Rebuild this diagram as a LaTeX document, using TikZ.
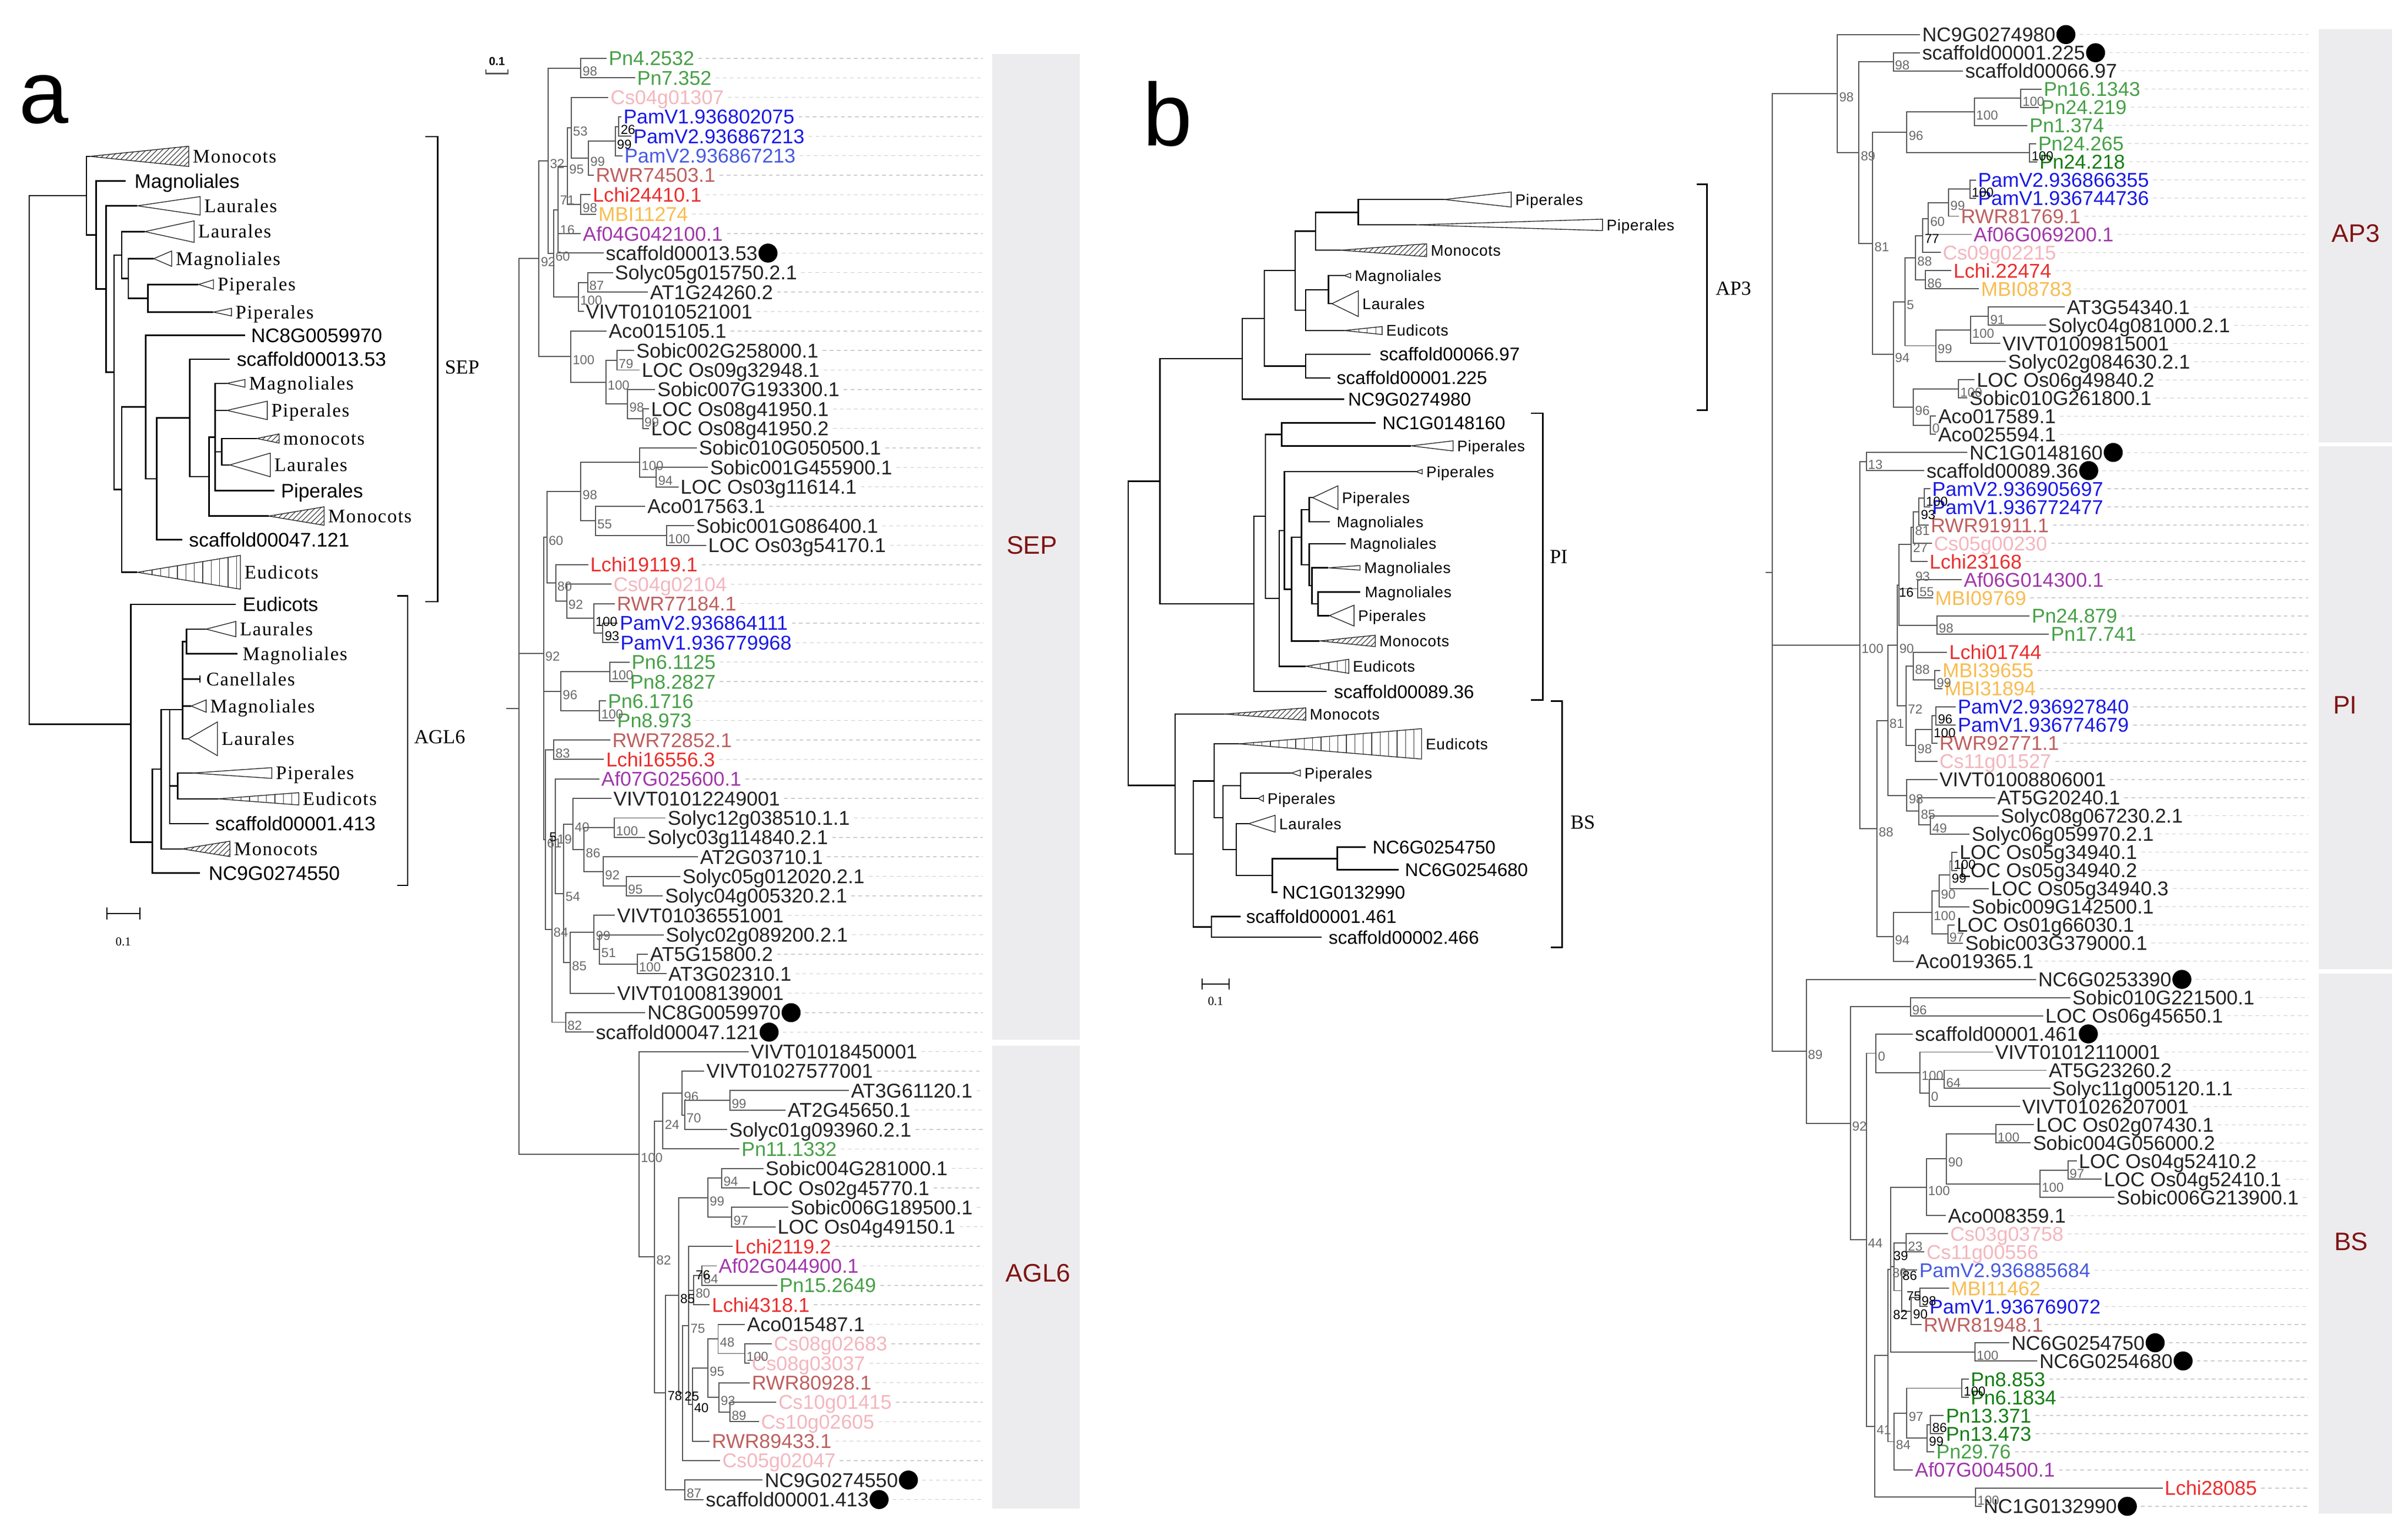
\documentclass[tikz,border=0pt]{standalone}
\usepackage{fontspec}
\setmainfont{Liberation Sans}
\newfontfamily\tms{Liberation Serif}
\newfontfamily\tmsls{Liberation Serif}[LetterSpace=5]
\newfontfamily\arls{Liberation Sans}[LetterSpace=3]
\definecolor{cgrn}{RGB}{70,160,70}
\definecolor{cdgrn}{RGB}{20,125,20}
\definecolor{cpnk}{RGB}{244,182,190}
\definecolor{cblu}{RGB}{25,25,230}
\definecolor{cblu2}{RGB}{70,90,225}
\definecolor{crwr}{RGB}{190,95,95}
\definecolor{cred}{RGB}{235,45,45}
\definecolor{corg}{RGB}{248,188,80}
\definecolor{cpur}{RGB}{160,55,170}
\definecolor{ctxt}{RGB}{35,35,35}
\definecolor{cpan}{RGB}{236,236,238}
\definecolor{cdred}{RGB}{128,20,20}
\definecolor{cbr}{RGB}{85,85,85}
\definecolor{cbs}{RGB}{105,105,105}
\tikzset{
 lf/.style={font=\fontsize{13}{15}\selectfont, anchor=west, inner sep=0pt, text height=9.3pt, text depth=0pt},
 ld/.style={gray!40, line width=0.5pt, dash pattern=on 2.4pt off 2.2pt},
 rb/.style={cbr, line width=0.7pt},
 lb/.style={black, line width=0.9pt},
 bsl/.style={font=\fontsize{8.5}{9}\selectfont, text=cbs, anchor=west, inner sep=0pt, xshift=1pt, yshift=-2.2pt},
 tri/.style={draw=black!85, line width=0.5pt, fill=white},
 hl/.style={black!75, line width=0.45pt},
 cla/.style={font=\tmsls\fontsize{12.5}{14}\selectfont, anchor=west, inner sep=0pt, text height=8.3pt, text depth=0pt},
 sla/.style={font=\fontsize{12.8}{14}\selectfont, anchor=west, inner sep=0pt, text height=9.2pt, text depth=0pt},
 clb/.style={font=\arls\fontsize{10}{12}\selectfont, anchor=west, inner sep=0pt, text height=7.2pt, text depth=0pt},
 slb/.style={font=\fontsize{12}{14}\selectfont, anchor=west, inner sep=0pt, text height=8.6pt, text depth=0pt},
 brk/.style={black, line width=0.9pt},
 brl/.style={font=\tms\fontsize{13}{15}\selectfont, anchor=west, inner sep=0pt},
 pl/.style={font=\fontsize{16.5}{18}\selectfont, text=cdred},
}
\newcommand\Lf[6]{\node[lf,text=#4] (#1) at (#2,#3) {#5};\draw[ld] ([xshift=2.5pt]#1.east) -- (#1.east -| #6);}
\newcommand\Ld[5]{\node[lf,text=ctxt] (#1) at (#2,#3) {#4};\fill[black] ([xshift=6.6pt]#1.east) circle (6.2pt);\draw[ld] ([xshift=15.5pt]#1.east) -- (#1.east -| #5);}
\newcommand\Er[2]{\draw[rb] (#1) |- (#2);}
\newcommand\El[2]{\draw[rb] (#1) |- ([xshift=-1.2pt]#2.west);}
\newcommand\Eb[2]{\draw[lb] (#1) |- (#2);}
\newcommand\Bs[2]{\node[bsl] (#1-bs) at (#1) {#2};}
\newcommand\Bk[2]{\node[bsl,text=black] (#1-bs) at (#1) {#2};}
\newcommand\TriO[7]{\coordinate (#1) at (#2,#3);\draw[tri] (#2,#3) -- ({#4},{#3-#5}) -- ({#4},{#3+#5}) -- cycle;\node[#6] (#1t) at ({#4+2.5},#3) {#7};}
\newcommand\TriH[7]{\coordinate (#1) at (#2,#3);\begin{scope}\clip (#2,#3) -- ({#4},{#3-#5}) -- ({#4},{#3+#5}) -- cycle;\foreach \qq in {-30,-26.5,...,165}{\draw[hl] ({#2+\qq},{#3+#5}) -- ({#2+\qq+2*#5},{#3-#5});}\end{scope}\draw[tri,fill=none] (#2,#3) -- ({#4},{#3-#5}) -- ({#4},{#3+#5}) -- cycle;\node[#6] (#1t) at ({#4+2.5},#3) {#7};}
\newcommand\TriS[7]{\coordinate (#1) at (#2,#3);\begin{scope}\clip (#2,#3) -- ({#4},{#3-#5}) -- ({#4},{#3+#5}) -- cycle;\foreach \qq in {4,9.5,...,130}{\draw[hl] ({#2+\qq},{#3-#5}) -- ({#2+\qq},{#3+#5});}\end{scope}\draw[tri,fill=none] (#2,#3) -- ({#4},{#3-#5}) -- ({#4},{#3+#5}) -- cycle;\node[#6] (#1t) at ({#4+2.5},#3) {#7};}
\newcommand\Tx[6]{\coordinate (#1) at (#2,#3);\node[#5] (#1t) at (#4,#3) {#6};}
\begin{document}
\begin{tikzpicture}[x=1pt,y=-1pt]
\useasboundingbox (0,0) rectangle (1568,999.4);
\fill[white] (0,0) rectangle (1568,999.4);
% ================= panels
\fill[cpan] (646,35) rectangle (703,677);
\fill[cpan] (646,681) rectangle (703,982);
\fill[cpan] (1510,19) rectangle (1557.5,288);
\fill[cpan] (1510,290.5) rectangle (1557.5,631);
\fill[cpan] (1510,634) rectangle (1557.5,985.5);
\node[pl] (pSEP) at (672,355) {SEP};
\node[pl] (pAGL) at (676,829) {AGL6};
\node[pl] (pAP3) at (1534,152) {AP3};
\node[pl] (pPI) at (1527,459) {PI};
\node[pl] (pBS) at (1531,808.5) {BS};
\node[anchor=base west, inner sep=0pt, font=\fontsize{58}{60}\selectfont] (la) at (12,80) {a};
\node[anchor=base west, inner sep=0pt, font=\fontsize{58}{60}\selectfont] (lbb) at (744,95) {b};
\coordinate (gS) at (640,0);
\coordinate (gR) at (1503,0);
% ================= a-left tree
\TriH{A1}{58.5}{101.8}{122.9}{6.6}{cla}{Monocots}
\Tx{A2}{81.7}{117.9}{87.5}{sla}{Magnoliales}
\TriO{A3}{89.5}{134}{130.3}{6}{cla}{Laurales}
\TriO{A4}{94.3}{150.8}{126.4}{7}{cla}{Laurales}
\TriO{A5}{100.1}{168.4}{111.8}{5}{cla}{Magnoliales}
\TriO{A6}{129.3}{185.2}{139.0}{3}{cla}{Piperales}
\TriO{A7}{139.0}{203.2}{150.7}{2.5}{cla}{Piperales}
\Tx{A8}{159.5}{218.2}{163.3}{sla}{NC8G0059970}
\Tx{A9}{149.7}{233.9}{154.0}{sla}{scaffold00013.53}
\TriO{A10}{147.8}{249.6}{159.5}{2.5}{cla}{Magnoliales}
\TriO{A11}{147.8}{267.2}{174.0}{6}{cla}{Piperales}
\TriH{A12}{167.2}{285.5}{181.8}{3}{cla}{monocots}
\TriO{A13}{149.7}{302.7}{176}{7.7}{cla}{Laurales}
\Tx{A14}{178.5}{319.5}{182.8}{sla}{Piperales}
\TriH{A15}{175}{336}{211}{6}{cla}{Monocots}
\Tx{A16}{118.6}{351.4}{122.9}{sla}{scaffold00047.121}
\TriS{A17}{89.5}{372.6}{156.5}{11}{cla}{Eudicots}
\Tx{A18}{153.6}{393.5}{157.9}{sla}{Eudicots}
\TriO{A19}{134.2}{409.6}{153.6}{5}{cla}{Laurales}
\Tx{A20}{154.6}{425.7}{157.9}{cla}{Magnoliales}
\Tx{A21}{130.3}{442.2}{134.2}{cla}{Canellales}
\draw[lb,line width=0.6pt] (130.3,439.8) -- (130.3,444.6);
\TriO{A22}{124.5}{459.7}{134.2}{4}{cla}{Magnoliales}
\TriO{A23}{122.5}{481}{141.6}{11}{cla}{Laurales}
\TriO{A24}{125.4}{503.3}{177}{3.5}{cla}{Piperales}
\TriS{A25}{142}{520.1}{194.5}{4}{cla}{Eudicots}
\Tx{A26}{136.1}{536.2}{140.0}{sla}{scaffold00001.413}
\TriH{A27}{118.6}{552.7}{149.7}{5}{cla}{Monocots}
\Tx{A28}{130.3}{568.4}{135.7}{sla}{NC9G0274550}
\coordinate (Lr) at (19.1,299.5);
\coordinate (LS) at (56.4,127.4);
\coordinate (LS2) at (62.6,153.05);
\coordinate (LS3) at (69.0,188.2);
\coordinate (LS4) at (74.3,242.4);
\coordinate (LS5) at (79.3,166.05);
\coordinate (LS7) at (83.6,181.3);
\coordinate (LS8) at (96.3,194.2);
\coordinate (LS6) at (79.3,318.8);
\coordinate (LS9) at (94.9,265);
\coordinate (LS10) at (102.1,311.8);
\coordinate (LS11) at (123.5,272.1);
\coordinate (LS12) at (136.1,310.3);
\coordinate (LS13) at (140.0,284.6);
\coordinate (LS14) at (144.3,294.1);
\coordinate (LA) at (85.2,471.5);
\coordinate (LA2) at (99.2,548.3);
\coordinate (LA3) at (105.0,500.7);
\coordinate (LA4) at (110.5,462);
\coordinate (LA5) at (119.0,462);
\coordinate (LA6) at (115.7,511.7);
\coordinate (LA7) at (121.5,417.65);
\Eb{Lr}{LS}\Eb{Lr}{LA}
\Eb{LS}{A1}\Eb{LS}{LS2}\Eb{LS2}{A2}\Eb{LS2}{LS3}\Eb{LS3}{A3}\Eb{LS3}{LS4}
\Eb{LS4}{LS5}\Eb{LS4}{LS6}\Eb{LS5}{A4}\Eb{LS5}{LS7}\Eb{LS7}{A5}\Eb{LS7}{LS8}
\Eb{LS8}{A6}\Eb{LS8}{A7}\Eb{LS6}{LS9}\Eb{LS6}{A17}\Eb{LS9}{A8}\Eb{LS9}{LS10}
\Eb{LS10}{LS11}\Eb{LS10}{A16}\Eb{LS11}{A9}\Eb{LS11}{LS12}\Eb{LS12}{LS13}\Eb{LS12}{A15}
\Eb{LS13}{A10}\Eb{LS13}{A11}\Eb{LS13}{LS14}\Eb{LS13}{A14}\Eb{LS14}{A12}\Eb{LS14}{A13}
\Eb{LA}{A18}\Eb{LA}{LA2}\Eb{LA2}{LA3}\Eb{LA2}{A28}\Eb{LA3}{LA4}\Eb{LA3}{A27}
\Eb{LA4}{LA5}\Eb{LA4}{LA6}\Eb{LA4}{A26}\Eb{LA5}{LA7}\Eb{LA5}{A21}\Eb{LA5}{A22}\Eb{LA5}{A23}
\Eb{LA7}{A19}\Eb{LA7}{A20}\Eb{LA6}{A24}\Eb{LA6}{A25}
\draw[brk] (277,89) -- (285,89) -- (285,391.7) -- (277,391.7);
\node[brl] (bSEP) at (289.5,239) {SEP};
\draw[brk] (258.7,388) -- (265.5,388) -- (265.5,576.5) -- (258.7,576.5);
\node[brl] (bAGL) at (269.5,480) {AGL6};
\draw[brk,line width=0.8pt] (69.6,590.8) -- (69.6,598.8) (69.6,594.8) -- (91,594.8) (91,590.8) -- (91,598.8);
\node[font=\tms\fontsize{8}{9}\selectfont] (sbA) at (80.3,613) {0.1};
% ================= b tree
\TriO{B1}{940.5}{129.9}{984}{4.9}{clb}{Piperales}
\TriO{B2}{922.2}{146.4}{1043.5}{3.7}{clb}{Piperales}
\TriH{B3}{873}{162.9}{929}{4.2}{clb}{Monocots}
\TriO{B4}{875.3}{179.4}{879.5}{1.5}{clb}{Magnoliales}
\TriO{B5}{867.3}{197.7}{884.5}{8.4}{clb}{Laurales}
\TriS{B6}{875.3}{215.2}{900}{2.6}{clb}{Eudicots}
\Tx{B7}{892.5}{230.6}{898.2}{slb}{scaffold00066.97}
\Tx{B8}{866.2}{246}{870.3}{slb}{scaffold00001.225}
\Tx{B9}{875.3}{259.9}{877.6}{slb}{NC9G0274980}
\Tx{B10}{895.9}{275.3}{900.0}{slb}{NC1G0148160}
\TriO{B11}{918.8}{290.3}{946.2}{3.3}{clb}{Piperales}
\TriO{B12}{922.2}{307.1}{926.1}{1.5}{clb}{Piperales}
\TriO{B13}{854.7}{324}{871.2}{7.7}{clb}{Piperales}
\Tx{B14}{866}{339.7}{870.3}{clb}{Magnoliales}
\Tx{B15}{876.5}{354}{878.8}{clb}{Magnoliales}
\TriO{B16}{865}{369.7}{885.6}{1.5}{clb}{Magnoliales}
\Tx{B17}{885.6}{385.4}{888.6}{clb}{Magnoliales}
\TriO{B18}{865.7}{400.8}{881.7}{6.8}{clb}{Piperales}
\TriH{B19}{859.3}{417.3}{895.5}{3.7}{clb}{Monocots}
\TriS{B20}{850.2}{433.8}{878.3}{4.6}{clb}{Eudicots}
\Tx{B21}{863.9}{450.2}{868.5}{slb}{scaffold00089.36}
\TriH{B22}{797.5}{464.9}{850.2}{4}{clb}{Monocots}
\TriS{B23}{806.7}{484.3}{925.7}{9.9}{clb}{Eudicots}
\TriO{B24}{841.0}{503.3}{846.7}{2}{clb}{Piperales}
\TriO{B25}{819.3}{519.8}{822.7}{2}{clb}{Piperales}
\TriO{B26}{813.1}{536.3}{830.3}{5.5}{clb}{Laurales}
\Tx{B27}{889.1}{551.6}{893.6}{slb}{NC6G0254750}
\Tx{B28}{910.8}{566.3}{914.7}{slb}{NC6G0254680}
\Tx{B29}{832.0}{580.9}{834.8}{slb}{NC1G0132990}
\Tx{B30}{807.8}{596.7}{811.3}{slb}{scaffold00001.461}
\Tx{B31}{860.5}{610.2}{865}{slb}{scaffold00002.466}
\coordinate (Br) at (734.6,412.4);
\coordinate (B165) at (755.2,313.4);
\coordinate (B400) at (809.0,233.6);
\coordinate (B462) at (823.2,207.3);
\coordinate (B550) at (843.3,176.2);
\coordinate (B608) at (856.6,150.5);
\coordinate (B730) at (884.5,138.2);
\coordinate (B580) at (850.2,201.9);
\coordinate (B645) at (865.0,188.6);
\coordinate (B580b) at (850.2,238.3);
\coordinate (B433) at (816.5,393.2);
\coordinate (B462p) at (823.9,336.2);
\coordinate (B512) at (834.6,282.8);
\coordinate (B505) at (833.0,389.6);
\coordinate (B520) at (836.4,345.4);
\coordinate (B540) at (841.0,383.6);
\coordinate (B568) at (847.4,349.8);
\coordinate (B590) at (852.5,331.9);
\coordinate (B590b) at (852.5,367.7);
\coordinate (B598) at (854.3,381.4);
\coordinate (B615) at (858.2,393.1);
\coordinate (B208) at (765.1,511.4);
\coordinate (B260) at (777.0,556.0);
\coordinate (B312) at (788.8,603.5);
\coordinate (B320) at (790.7,508.4);
\coordinate (B345) at (796.4,532.4);
\coordinate (B395) at (807.8,511.6);
\coordinate (B382) at (804.9,553.1);
\coordinate (B485) at (828.4,570);
\coordinate (B670) at (870.8,559);
\Eb{Br}{B165}\Eb{Br}{B208}\Eb{B165}{B400}\Eb{B165}{B433}\Eb{B400}{B462}\Eb{B400}{B9}
\Eb{B462}{B550}\Eb{B462}{B580b}\Eb{B550}{B608}\Eb{B550}{B580}\Eb{B608}{B730}\Eb{B608}{B3}
\Eb{B730}{B1}\Eb{B730}{B2}\Eb{B580}{B645}\Eb{B580}{B6}\Eb{B645}{B4}\Eb{B645}{B5}
\Eb{B580b}{B7}\Eb{B580b}{B8}
\Eb{B433}{B462p}\Eb{B433}{B21}\Eb{B462p}{B512}\Eb{B462p}{B505}\Eb{B512}{B10}\Eb{B512}{B11}
\Eb{B505}{B520}\Eb{B505}{B20}\Eb{B520}{B12}\Eb{B520}{B540}\Eb{B540}{B568}\Eb{B540}{B19}
\Eb{B568}{B590}\Eb{B568}{B590b}\Eb{B590}{B13}\Eb{B590}{B14}\Eb{B590b}{B15}\Eb{B590b}{B598}
\Eb{B598}{B16}\Eb{B598}{B615}\Eb{B615}{B17}\Eb{B615}{B18}
\Eb{B208}{B22}\Eb{B208}{B260}\Eb{B260}{B320}\Eb{B260}{B312}\Eb{B320}{B23}\Eb{B320}{B345}
\Eb{B345}{B395}\Eb{B345}{B382}\Eb{B395}{B24}\Eb{B395}{B25}\Eb{B382}{B26}\Eb{B382}{B485}
\Eb{B485}{B670}\Eb{B485}{B29}\Eb{B670}{B27}\Eb{B670}{B28}\Eb{B312}{B30}\Eb{B312}{B31}
\draw[brk] (1105,120) -- (1111.5,120) -- (1111.5,267) -- (1105,267);
\node[brl] (bAP3) at (1117,188) {AP3};
\draw[brk] (997,269) -- (1004.6,269) -- (1004.6,455.7) -- (997,455.7);
\node[brl] (bPI) at (1009,362.4) {PI};
\draw[brk] (1009.9,456.5) -- (1017.2,456.5) -- (1017.2,616.8) -- (1009.9,616.8);
\node[brl] (bBS) at (1022.5,535.5) {BS};
\draw[brk,line width=0.8pt] (782.7,637) -- (782.7,644.2) (782.7,640.6) -- (800.3,640.6) (800.3,637) -- (800.3,644.2);
\node[font=\tms\fontsize{8}{9}\selectfont] (sbB) at (791.5,652) {0.1};
% ================= SEP / AGL6 tree
\draw[cbr,line width=0.8pt] (316.4,45.3) -- (316.4,47.9) -- (330.8,47.9) -- (330.8,45.3);
\node[font=\bfseries\fontsize{7.5}{8}\selectfont] (sbS) at (323.6,40) {0.1};
\Lf{s1}{396.2}{38.00}{cgrn}{Pn4.2532}{gS}
\Lf{s2}{414.7}{50.68}{cgrn}{Pn7.352}{gS}
\Lf{s3}{397.4}{63.36}{cpnk}{Cs04g01307}{gS}
\Lf{s4}{405.8}{76.04}{cblu}{PamV1.936802075}{gS}
\Lf{s5}{412.3}{88.72}{cblu}{PamV2.936867213}{gS}
\Lf{s6}{406.5}{101.40}{cblu2}{PamV2.936867213}{gS}
\Lf{s7}{387.8}{114.08}{crwr}{RWR74503.1}{gS}
\Lf{s8}{385.8}{126.76}{cred}{Lchi24410.1}{gS}
\Lf{s9}{389.5}{139.44}{corg}{MBI11274}{gS}
\Lf{s10}{379.4}{152.12}{cpur}{Af04G042100.1}{gS}
\Ld{s11}{394.3}{164.80}{scaffold00013.53}{gS}
\Lf{s12}{400.3}{177.48}{ctxt}{Solyc05g015750.2.1}{gS}
\Lf{s13}{423.1}{190.16}{ctxt}{AT1G24260.2}{gS}
\Lf{s14}{381.3}{202.84}{ctxt}{VIVT01010521001}{gS}
\Lf{s15}{396.2}{215.52}{ctxt}{Aco015105.1}{gS}
\Lf{s16}{414.2}{228.20}{ctxt}{Sobic002G258000.1}{gS}
\Lf{s17}{417.8}{240.88}{ctxt}{LOC Os09g32948.1}{gS}
\Lf{s18}{427.9}{253.56}{ctxt}{Sobic007G193300.1}{gS}
\Lf{s19}{423.8}{266.24}{ctxt}{LOC Os08g41950.1}{gS}
\Lf{s20}{423.8}{278.92}{ctxt}{LOC Os08g41950.2}{gS}
\Lf{s21}{455.0}{291.60}{ctxt}{Sobic010G050500.1}{gS}
\Lf{s22}{462.2}{304.28}{ctxt}{Sobic001G455900.1}{gS}
\Lf{s23}{443.0}{316.96}{ctxt}{LOC Os03g11614.1}{gS}
\Lf{s24}{421.4}{329.64}{ctxt}{Aco017563.1}{gS}
\Lf{s25}{453.1}{342.32}{ctxt}{Sobic001G086400.1}{gS}
\Lf{s26}{461.0}{355.00}{ctxt}{LOC Os03g54170.1}{gS}
\Lf{s27}{384.2}{367.68}{cred}{Lchi19119.1}{gS}
\Lf{s28}{399.3}{380.36}{cpnk}{Cs04g02104}{gS}
\Lf{s29}{401.5}{393.04}{crwr}{RWR77184.1}{gS}
\Lf{s30}{403.4}{405.72}{cblu}{PamV2.936864111}{gS}
\Lf{s31}{403.9}{418.40}{cblu}{PamV1.936779968}{gS}
\Lf{s32}{411.1}{431.08}{cgrn}{Pn6.1125}{gS}
\Lf{s33}{410.1}{443.76}{cgrn}{Pn8.2827}{gS}
\Lf{s34}{395.7}{456.44}{cgrn}{Pn6.1716}{gS}
\Lf{s35}{401.7}{469.12}{cgrn}{Pn8.973}{gS}
\Lf{s36}{398.6}{481.80}{crwr}{RWR72852.1}{gS}
\Lf{s37}{394.5}{494.48}{cred}{Lchi16556.3}{gS}
\Lf{s38}{391.4}{507.16}{cpur}{Af07G025600.1}{gS}
\Lf{s39}{399.3}{519.84}{ctxt}{VIVT01012249001}{gS}
\Lf{s40}{434.6}{532.52}{ctxt}{Solyc12g038510.1.1}{gS}
\Lf{s41}{421.4}{545.20}{ctxt}{Solyc03g114840.2.1}{gS}
\Lf{s42}{455.7}{557.88}{ctxt}{AT2G03710.1}{gS}
\Lf{s43}{444.2}{570.56}{ctxt}{Solyc05g012020.2.1}{gS}
\Lf{s44}{432.9}{583.24}{ctxt}{Solyc04g005320.2.1}{gS}
\Lf{s45}{401.7}{595.92}{ctxt}{VIVT01036551001}{gS}
\Lf{s46}{433.4}{608.60}{ctxt}{Solyc02g089200.2.1}{gS}
\Lf{s47}{423.1}{621.28}{ctxt}{AT5G15800.2}{gS}
\Lf{s48}{435.1}{633.96}{ctxt}{AT3G02310.1}{gS}
\Lf{s49}{401.7}{646.64}{ctxt}{VIVT01008139001}{gS}
\Ld{s50}{421.4}{659.32}{NC8G0059970}{gS}
\Ld{s51}{387.8}{672.00}{scaffold00047.121}{gS}
\Lf{s52}{488.7}{684.68}{ctxt}{VIVT01018450001}{gS}
\Lf{s53}{459.8}{697.36}{ctxt}{VIVT01027577001}{gS}
\Lf{s54}{554.0}{710.04}{ctxt}{AT3G61120.1}{gS}
\Lf{s55}{512.7}{722.72}{ctxt}{AT2G45650.1}{gS}
\Lf{s56}{474.7}{735.40}{ctxt}{Solyc01g093960.2.1}{gS}
\Lf{s57}{482.7}{748.08}{cgrn}{Pn11.1332}{gS}
\Lf{s58}{498.3}{760.76}{ctxt}{Sobic004G281000.1}{gS}
\Lf{s59}{489.4}{773.44}{ctxt}{LOC Os02g45770.1}{gS}
\Lf{s60}{514.6}{786.12}{ctxt}{Sobic006G189500.1}{gS}
\Lf{s61}{506.2}{798.80}{ctxt}{LOC Os04g49150.1}{gS}
\Lf{s62}{478.3}{811.48}{cred}{Lchi2119.2}{gS}
\Lf{s63}{467.8}{824.16}{cpur}{Af02G044900.1}{gS}
\Lf{s64}{507.4}{836.84}{cgrn}{Pn15.2649}{gS}
\Lf{s65}{463.4}{849.52}{cred}{Lchi4318.1}{gS}
\Lf{s66}{486.3}{862.20}{ctxt}{Aco015487.1}{gS}
\Lf{s67}{503.8}{874.88}{cpnk}{Cs08g02683}{gS}
\Lf{s68}{489.4}{887.56}{cpnk}{Cs08g03037}{gS}
\Lf{s69}{489.4}{900.24}{crwr}{RWR80928.1}{gS}
\Lf{s70}{506.7}{912.92}{cpnk}{Cs10g01415}{gS}
\Lf{s71}{495.4}{925.60}{cpnk}{Cs10g02605}{gS}
\Lf{s72}{463.4}{938.28}{crwr}{RWR89433.1}{gS}
\Lf{s73}{470.2}{950.96}{cpnk}{Cs05g02047}{gS}
\Ld{s74}{497.8}{963.64}{NC9G0274550}{gS}
\Ld{s75}{459.4}{976.32}{scaffold00001.413}{gS}
\coordinate (sRoot) at (337.8,461.4);
\coordinate (sN1) at (351.0,168.4);
\coordinate (sN32) at (356.9,104.6);
\coordinate (sNPn) at (378.2,44.35);
\coordinate (sN53) at (371.9,83.2);
\coordinate (sN99) at (383.2,103.0);
\coordinate (sN99b) at (400.6,91.9);
\coordinate (sN26) at (403.0,82.35);
\coordinate (sN95) at (369.5,108.2);
\coordinate (sN98b) at (378.2,133.1);
\coordinate (sNq) at (363.5,136.5);
\coordinate (sN60) at (360.5,164.9);
\coordinate (sN87) at (382.6,183.9);
\coordinate (sNEu) at (376.7,193.3);
\coordinate (sNMono) at (371.7,232.2);
\coordinate (sN79) at (401.7,234.5);
\coordinate (sN100b2) at (394.5,248.8);
\coordinate (sN98c) at (408.7,263.1);
\coordinate (sN99c) at (418.5,272.6);
\coordinate (sN2) at (353.9,425.3);
\coordinate (sN60b) at (356.1,349.8);
\coordinate (sN98) at (378.2,320.1);
\coordinate (sN100e) at (416.6,301.1);
\coordinate (sN94) at (427.4,310.6);
\coordinate (sN55) at (387.8,339.1);
\coordinate (sN100f) at (433.9,348.6);
\coordinate (sN80) at (361.8,379.5);
\coordinate (sN92b) at (369.0,391.4);
\coordinate (sN100g) at (386.6,402.5);
\coordinate (sN93) at (392.6,412.0);
\coordinate (sN96) at (365.3,450.1);
\coordinate (sN100a) at (397.0,437.4);
\coordinate (sN100bb) at (390.4,462.8);
\coordinate (sN61) at (355.1,546.6);
\coordinate (sN83) at (360.5,488.2);
\coordinate (sN84) at (359.3,605.0);
\coordinate (sNAf) at (361.7,544.4);
\coordinate (sN54) at (367.1,581.7);
\coordinate (sN40) at (373.1,536.5);
\coordinate (sN86) at (380.3,553.2);
\coordinate (sN100c) at (400.0,538.9);
\coordinate (sN92) at (392.8,567.4);
\coordinate (sN95s) at (407.8,576.9);
\coordinate (sN85) at (371.3,626.8);
\coordinate (sN99s) at (386.8,607.0);
\coordinate (sN51) at (390.4,618.1);
\coordinate (sN100d) at (414.9,627.6);
\coordinate (sN82) at (368.3,665.6);
\coordinate (sNAG) at (416.1,751.5);
\coordinate (sN82a) at (426.3,818.3);
\coordinate (sN24) at (431.7,729.9);
\coordinate (sN96x) at (444.2,711.7);
\coordinate (sN70) at (445.8,725.9);
\coordinate (sN99x) at (475.3,716.4);
\coordinate (sN78) at (433.5,906.7);
\coordinate (sN545) at (441.8,843.4);
\coordinate (sN99y) at (461.0,779.8);
\coordinate (sN94x) at (469.9,767.1);
\coordinate (sN97x) at (476.5,792.5);
\coordinate (sN570) at (444.6,906.9);
\coordinate (sN600) at (448.4,863.0);
\coordinate (sN76) at (451.8,840.0);
\coordinate (sN84x) at (457.0,830.5);
\coordinate (sN40x) at (450.8,914.5);
\coordinate (sN95x) at (461.0,890.8);
\coordinate (sN48) at (467.6,871.7);
\coordinate (sN100h) at (484.9,881.2);
\coordinate (sN93x) at (468.1,909.8);
\coordinate (sN89) at (475.3,919.3);
\coordinate (sN87x) at (446.0,970.0);
\draw[rb] (329.5,461.4) -- (sRoot);
\Er{sRoot}{sN1}\Er{sRoot}{sN2}\Er{sRoot}{sNAG}
\Er{sN1}{sN32}\Er{sN1}{sNMono}\Er{sN32}{sNPn}\Er{sN32}{sN60}\El{sNPn}{s1}\El{sNPn}{s2}
\Er{sN60}{sNq}\Er{sN60}{sNEu}\Er{sNq}{sN95}\El{sNq}{s10}\El{sNq}{s11}
\Er{sN95}{sN53}\Er{sN95}{sN98b}\El{sN53}{s3}\Er{sN53}{sN99}\Er{sN99}{sN99b}\El{sN99}{s7}
\Er{sN99b}{sN26}\El{sN99b}{s6}\El{sN26}{s4}\El{sN26}{s5}\El{sN98b}{s8}\El{sN98b}{s9}
\Er{sNEu}{sN87}\El{sNEu}{s14}\El{sN87}{s12}\El{sN87}{s13}
\El{sNMono}{s15}\Er{sNMono}{sN100b2}\Er{sN100b2}{sN79}\Er{sN100b2}{sN98c}\El{sN79}{s16}\El{sN79}{s17}
\El{sN98c}{s18}\Er{sN98c}{sN99c}\El{sN99c}{s19}\El{sN99c}{s20}
\Er{sN2}{sN60b}\Er{sN2}{sN96}\Er{sN2}{sN61}
\Er{sN60b}{sN98}\Er{sN60b}{sN80}\Er{sN98}{sN100e}\Er{sN98}{sN55}\El{sN100e}{s21}\Er{sN100e}{sN94}
\El{sN94}{s22}\El{sN94}{s23}\El{sN55}{s24}\Er{sN55}{sN100f}\El{sN100f}{s25}\El{sN100f}{s26}
\El{sN80}{s27}\Er{sN80}{sN92b}\El{sN92b}{s28}\Er{sN92b}{sN100g}\El{sN100g}{s29}\Er{sN100g}{sN93}
\El{sN93}{s30}\El{sN93}{s31}
\Er{sN96}{sN100a}\Er{sN96}{sN100bb}\El{sN100a}{s32}\El{sN100a}{s33}\El{sN100bb}{s34}\El{sN100bb}{s35}
\Er{sN61}{sN83}\Er{sN61}{sN84}\El{sN83}{s36}\El{sN83}{s37}
\Er{sN84}{sNAf}\Er{sN84}{sN82}\El{sNAf}{s38}\Er{sNAf}{sN54}\Er{sN54}{sN40}\Er{sN54}{sN85}
\El{sN40}{s39}\Er{sN40}{sN86}\Er{sN86}{sN100c}\Er{sN86}{sN92}\El{sN100c}{s40}\El{sN100c}{s41}
\El{sN92}{s42}\Er{sN92}{sN95s}\El{sN95s}{s43}\El{sN95s}{s44}
\Er{sN85}{sN99s}\El{sN85}{s49}\El{sN99s}{s45}\Er{sN99s}{sN51}\El{sN51}{s46}\Er{sN51}{sN100d}
\El{sN100d}{s47}\El{sN100d}{s48}\El{sN82}{s50}\El{sN82}{s51}
\El{sNAG}{s52}\Er{sNAG}{sN82a}\Er{sN82a}{sN24}\Er{sN82a}{sN78}\Er{sN24}{sN96x}\El{sN24}{s57}
\El{sN96x}{s53}\Er{sN96x}{sN70}\Er{sN70}{sN99x}\El{sN70}{s56}\El{sN99x}{s54}\El{sN99x}{s55}
\Er{sN78}{sN545}\Er{sN78}{sN87x}\Er{sN545}{sN99y}\Er{sN545}{sN570}\Er{sN99y}{sN94x}\Er{sN99y}{sN97x}
\El{sN94x}{s58}\El{sN94x}{s59}\El{sN97x}{s60}\El{sN97x}{s61}
\Er{sN570}{sN600}\El{sN570}{s73}\El{sN600}{s62}\Er{sN600}{sN76}\Er{sN600}{sN40x}
\Er{sN76}{sN84x}\El{sN76}{s65}\El{sN84x}{s63}\El{sN84x}{s64}
\Er{sN40x}{sN95x}\El{sN40x}{s72}\Er{sN95x}{sN48}\Er{sN95x}{sN93x}\El{sN48}{s66}\Er{sN48}{sN100h}
\El{sN100h}{s67}\El{sN100h}{s68}\El{sN93x}{s69}\Er{sN93x}{sN89}\El{sN89}{s70}\El{sN89}{s71}
\El{sN87x}{s74}\El{sN87x}{s75}
\Bs{sN1}{92}\Bs{sN32}{32}\Bs{sNPn}{98}\Bs{sN53}{53}\Bs{sN99}{99}\Bk{sN99b}{99}\Bk{sN26}{26}
\Bs{sN95}{95}\Bs{sN98b}{98}\Bs{sN60}{60}\Bs{sN87}{87}\Bs{sNEu}{100}\Bs{sNMono}{100}\Bs{sN79}{79}
\Bs{sN100b2}{100}\Bs{sN98c}{98}\Bs{sN99c}{99}
\node[bsl] (sB71) at (363.5,128) {71};
\node[bsl] (sB16) at (363.5,147.5) {16};
\Bs{sN2}{92}\Bs{sN60b}{60}\Bs{sN98}{98}\Bs{sN100e}{100}\Bs{sN94}{94}\Bs{sN55}{55}\Bs{sN100f}{100}
\Bs{sN80}{80}\Bs{sN92b}{92}\Bk{sN100g}{100}\Bk{sN93}{93}\Bs{sN96}{96}\Bs{sN100a}{100}\Bs{sN100bb}{100}
\Bs{sN61}{61}\Bs{sN83}{83}\Bs{sN84}{84}\Bs{sNAf}{19}\Bs{sN54}{54}\Bs{sN40}{40}\Bs{sN86}{86}
\Bs{sN100c}{100}\Bs{sN92}{92}\Bs{sN95s}{95}\Bs{sN85}{85}\Bs{sN99s}{99}\Bs{sN51}{51}\Bs{sN100d}{100}\Bs{sN82}{82}
\node[bsl,text=black] (sB5) at (356.5,543) {5};
\Bs{sNAG}{100}\Bs{sN82a}{82}\Bs{sN24}{24}\Bs{sN96x}{96}\Bs{sN70}{70}\Bs{sN99x}{99}\Bk{sN78}{78}
\Bk{sN545}{85}\Bs{sN99y}{99}\Bs{sN94x}{94}\Bs{sN97x}{97}\Bk{sN570}{25}\Bs{sN600}{75}\Bs{sN76}{80}
\Bs{sN84x}{84}\Bs{sN48}{48}\Bs{sN100h}{100}\Bs{sN95x}{95}\Bs{sN93x}{93}\Bs{sN89}{89}\Bk{sN40x}{40}\Bs{sN87x}{87}
\node[bsl,text=black] (sB76) at (451.8,828) {76};
% ================= AP3 / PI / BS tree
\Ld{r1}{1251.5}{22.5}{NC9G0274980}{gR}
\Ld{r2}{1251.5}{34.33}{scaffold00001.225}{gR}
\Lf{r3}{1279.5}{46.16}{ctxt}{scaffold00066.97}{gR}
\Lf{r4}{1330.6}{57.99}{cgrn}{Pn16.1343}{gR}
\Lf{r5}{1328.9}{69.82}{cgrn}{Pn24.219}{gR}
\Lf{r6}{1321.4}{81.65}{cgrn}{Pn1.374}{gR}
\Lf{r7}{1327.0}{93.48}{cgrn}{Pn24.265}{gR}
\Lf{r8}{1327.8}{105.31}{cdgrn}{Pn24.218}{gR}
\Lf{r9}{1287.8}{117.14}{cblu}{PamV2.936866355}{gR}
\Lf{r10}{1287.8}{128.97}{cblu}{PamV1.936744736}{gR}
\Lf{r11}{1276.7}{140.8}{crwr}{RWR81769.1}{gR}
\Lf{r12}{1285.0}{152.63}{cpur}{Af06G069200.1}{gR}
\Lf{r13}{1264.9}{164.46}{cpnk}{Cs09g02215}{gR}
\Lf{r14}{1271.9}{176.29}{cred}{Lchi.22474}{gR}
\Lf{r15}{1289.8}{188.12}{corg}{MBI08783}{gR}
\Lf{r16}{1345.7}{199.95}{ctxt}{AT3G54340.1}{gR}
\Lf{r17}{1333.4}{211.78}{ctxt}{Solyc04g081000.2.1}{gR}
\Lf{r18}{1303.8}{223.61}{ctxt}{VIVT01009815001}{gR}
\Lf{r19}{1307.4}{235.44}{ctxt}{Solyc02g084630.2.1}{gR}
\Lf{r20}{1287.0}{247.27}{ctxt}{LOC Os06g49840.2}{gR}
\Lf{r21}{1282.3}{259.1}{ctxt}{Sobic010G261800.1}{gR}
\Lf{r22}{1261.9}{270.93}{ctxt}{Aco017589.1}{gR}
\Lf{r23}{1261.9}{282.76}{ctxt}{Aco025594.1}{gR}
\Ld{r24}{1282.3}{294.59}{NC1G0148160}{gR}
\Ld{r25}{1254.3}{306.42}{scaffold00089.36}{gR}
\Lf{r26}{1258.0}{318.25}{cblu}{PamV2.936905697}{gR}
\Lf{r27}{1258.0}{330.08}{cblu}{PamV1.936772477}{gR}
\Lf{r28}{1257.1}{341.91}{crwr}{RWR91911.1}{gR}
\Lf{r29}{1259.1}{353.74}{cpnk}{Cs05g00230}{gR}
\Lf{r30}{1256.3}{365.57}{cred}{Lchi23168}{gR}
\Lf{r31}{1278.6}{377.4}{cpur}{Af06G014300.1}{gR}
\Lf{r32}{1259.9}{389.23}{corg}{MBI09769}{gR}
\Lf{r33}{1322.8}{401.06}{cgrn}{Pn24.879}{gR}
\Lf{r34}{1335.3}{412.89}{cgrn}{Pn17.741}{gR}
\Lf{r35}{1269.1}{424.72}{cred}{Lchi01744}{gR}
\Lf{r36}{1264.7}{436.55}{corg}{MBI39655}{gR}
\Lf{r37}{1266.1}{448.38}{corg}{MBI31894}{gR}
\Lf{r38}{1274.7}{460.21}{cblu}{PamV2.936927840}{gR}
\Lf{r39}{1274.7}{472.04}{cblu}{PamV1.936774679}{gR}
\Lf{r40}{1262.7}{483.87}{crwr}{RWR92771.1}{gR}
\Lf{r41}{1262.7}{495.7}{cpnk}{Cs11g01527}{gR}
\Lf{r42}{1262.7}{507.53}{ctxt}{VIVT01008806001}{gR}
\Lf{r43}{1300.4}{519.36}{ctxt}{AT5G20240.1}{gR}
\Lf{r44}{1302.6}{531.19}{ctxt}{Solyc08g067230.2.1}{gR}
\Lf{r45}{1283.7}{543.02}{ctxt}{Solyc06g059970.2.1}{gR}
\Lf{r46}{1275.8}{554.85}{ctxt}{LOC Os05g34940.1}{gR}
\Lf{r47}{1275.8}{566.68}{ctxt}{LOC Os05g34940.2}{gR}
\Lf{r48}{1296.2}{578.51}{ctxt}{LOC Os05g34940.3}{gR}
\Lf{r49}{1283.7}{590.34}{ctxt}{Sobic009G142500.1}{gR}
\Lf{r50}{1273.9}{602.17}{ctxt}{LOC Os01g66030.1}{gR}
\Lf{r51}{1279.5}{614.0}{ctxt}{Sobic003G379000.1}{gR}
\Lf{r52}{1247.3}{625.83}{ctxt}{Aco019365.1}{gR}
\Ld{r53}{1327.0}{637.66}{NC6G0253390}{gR}
\Lf{r54}{1349.3}{649.49}{ctxt}{Sobic010G221500.1}{gR}
\Lf{r55}{1331.7}{661.32}{ctxt}{LOC Os06g45650.1}{gR}
\Ld{r56}{1246.8}{673.15}{scaffold00001.461}{gR}
\Lf{r57}{1299.0}{684.98}{ctxt}{VIVT01012110001}{gR}
\Lf{r58}{1333.9}{696.81}{ctxt}{AT5G23260.2}{gR}
\Lf{r59}{1336.2}{708.64}{ctxt}{Solyc11g005120.1.1}{gR}
\Lf{r60}{1316.6}{720.47}{ctxt}{VIVT01026207001}{gR}
\Lf{r61}{1325.6}{732.3}{ctxt}{LOC Os02g07430.1}{gR}
\Lf{r62}{1323.6}{744.13}{ctxt}{Sobic004G056000.2}{gR}
\Lf{r63}{1353.5}{755.96}{ctxt}{LOC Os04g52410.2}{gR}
\Lf{r64}{1369.7}{767.79}{ctxt}{LOC Os04g52410.1}{gR}
\Lf{r65}{1378.1}{779.62}{ctxt}{Sobic006G213900.1}{gR}
\Lf{r66}{1268.3}{791.45}{ctxt}{Aco008359.1}{gR}
\Lf{r67}{1269.7}{803.28}{cpnk}{Cs03g03758}{gR}
\Lf{r68}{1254.3}{815.11}{cpnk}{Cs11g00556}{gR}
\Lf{r69}{1249.6}{826.94}{cblu2}{PamV2.936885684}{gR}
\Lf{r70}{1270.2}{838.77}{corg}{MBI11462}{gR}
\Lf{r71}{1256.3}{850.6}{cblu}{PamV1.936769072}{gR}
\Lf{r72}{1252.4}{862.43}{crwr}{RWR81948.1}{gR}
\Ld{r73}{1309.6}{874.26}{NC6G0254750}{gR}
\Ld{r74}{1327.8}{886.09}{NC6G0254680}{gR}
\Lf{r75}{1283.1}{897.92}{cdgrn}{Pn8.853}{gR}
\Lf{r76}{1283.1}{909.75}{cdgrn}{Pn6.1834}{gR}
\Lf{r77}{1266.9}{921.58}{cdgrn}{Pn13.371}{gR}
\Lf{r78}{1266.9}{933.41}{cdgrn}{Pn13.473}{gR}
\Lf{r79}{1260.7}{945.24}{cgrn}{Pn29.76}{gR}
\Lf{r80}{1246.8}{957.07}{cpur}{Af07G004500.1}{gR}
\Lf{r81}{1409.4}{968.9}{cred}{Lchi28085}{gR}
\Ld{r82}{1291.5}{980.73}{NC1G0132990}{gR}
\coordinate (rRoot) at (1153.9,372.75);
\coordinate (rN98r) at (1196.4,61.0);
\coordinate (rN89r) at (1210.5,99.4);
\coordinate (rN98s) at (1232.8,40.2);
\coordinate (rN81) at (1219.4,158.5);
\coordinate (rN96r) at (1241.7,86.1);
\coordinate (rN100r) at (1285.6,72.8);
\coordinate (rN100t) at (1315.8,63.9);
\coordinate (rN100s) at (1321.7,99.4);
\coordinate (rN94r) at (1232.8,230.8);
\coordinate (rN5r) at (1240.4,196.5);
\coordinate (rN88r) at (1247.3,167.8);
\coordinate (rN77r) at (1252.1,153.4);
\coordinate (rN60r) at (1255.7,142.3);
\coordinate (rN99r2) at (1268.8,131.9);
\coordinate (rN100u) at (1282.8,123.1);
\coordinate (rN86r) at (1253.8,182.2);
\coordinate (rN99r) at (1260.5,225.1);
\coordinate (rN100v) at (1283.1,214.8);
\coordinate (rN91r) at (1294.8,205.9);
\coordinate (rN96s) at (1245.9,265.0);
\coordinate (rN100w) at (1275.3,253.2);
\coordinate (rN0r) at (1257.1,276.8);
\coordinate (rNPI) at (1211.0,420.0);
\coordinate (rN13) at (1215.2,300.5);
\coordinate (rN88p) at (1222.2,539.5);
\coordinate (rN81p) at (1229.2,469.1);
\coordinate (rN90p) at (1235.6,420.2);
\coordinate (rNx) at (1236.4,380.8);
\coordinate (rN27p) at (1244.5,354.5);
\coordinate (rN81q) at (1245.9,343.4);
\coordinate (rN93p) at (1249.6,333.1);
\coordinate (rN100p) at (1252.9,324.2);
\coordinate (rN55p) at (1248.7,383.3);
\coordinate (rN98q) at (1261.3,407.0);
\coordinate (rN72) at (1241.2,459.5);
\coordinate (rN88q) at (1245.9,433.6);
\coordinate (rN99p) at (1259.9,442.5);
\coordinate (rN98p3) at (1247.3,485.4);
\coordinate (rN96p) at (1258.0,475.0);
\coordinate (rN100q) at (1260.7,466.1);
\coordinate (rN98p2) at (1241.7,517.9);
\coordinate (rN85p) at (1249.6,528.2);
\coordinate (rN49) at (1257.1,537.1);
\coordinate (rN94p) at (1232.8,609.9);
\coordinate (rN100z) at (1258.0,594.0);
\coordinate (rN90q) at (1262.7,580.0);
\coordinate (rN100y2) at (1269.7,569.6);
\coordinate (rN99y) at (1271.1,560.8);
\coordinate (rN97q) at (1268.3,608.1);
\coordinate (rNBS) at (1176.1,684.5);
\coordinate (rN92bs) at (1204.9,731.3);
\coordinate (rN96b) at (1244.0,655.4);
\coordinate (rN44) at (1215.2,807.2);
\coordinate (rN0b) at (1221.6,685.7);
\coordinate (rN100b) at (1250.1,698.3);
\coordinate (rN0c) at (1256.3,711.6);
\coordinate (rN64) at (1266.1,702.7);
\coordinate (rN41b) at (1220.8,928.7);
\coordinate (rN41c) at (1229.2,882.6);
\coordinate (rN80b) at (1231.1,826.6);
\coordinate (rN100c) at (1254.3,773.0);
\coordinate (rN90b) at (1267.4,754.5);
\coordinate (rN100e) at (1299.6,738.2);
\coordinate (rN100f) at (1328.4,770.8);
\coordinate (rN97b) at (1346.5,761.9);
\coordinate (rN39b) at (1233.4,824.7);
\coordinate (rN23b) at (1241.2,809.2);
\coordinate (rN86b) at (1238.4,840.3);
\coordinate (rN90b2) at (1244.5,853.6);
\coordinate (rN98b) at (1250.1,844.7);
\coordinate (rN100g) at (1285.9,880.2);
\coordinate (rN84c) at (1233.4,938.6);
\coordinate (rN97c) at (1241.7,920.1);
\coordinate (rN100i) at (1277.5,903.8);
\coordinate (rN99c) at (1254.9,936.4);
\coordinate (rN86c) at (1257.1,927.5);
\coordinate (rN100h) at (1286.4,974.8);
\draw[rb] (1149.7,372.75) -- (rRoot);
\Er{rRoot}{rN98r}\Er{rRoot}{rNPI}\Er{rRoot}{rNBS}
\El{rN98r}{r1}\Er{rN98r}{rN89r}\Er{rN89r}{rN98s}\Er{rN89r}{rN81}\El{rN98s}{r2}\El{rN98s}{r3}
\Er{rN81}{rN96r}\Er{rN81}{rN94r}\Er{rN96r}{rN100r}\Er{rN96r}{rN100s}\Er{rN100r}{rN100t}\El{rN100r}{r6}
\El{rN100t}{r4}\El{rN100t}{r5}\El{rN100s}{r7}\El{rN100s}{r8}
\Er{rN94r}{rN5r}\Er{rN94r}{rN96s}\Er{rN5r}{rN88r}\Er{rN5r}{rN99r}\Er{rN88r}{rN77r}\Er{rN88r}{rN86r}
\Er{rN77r}{rN60r}\El{rN77r}{r13}\Er{rN60r}{rN99r2}\El{rN60r}{r12}\Er{rN99r2}{rN100u}\El{rN99r2}{r11}
\El{rN100u}{r9}\El{rN100u}{r10}\El{rN86r}{r14}\El{rN86r}{r15}
\Er{rN99r}{rN100v}\El{rN99r}{r19}\Er{rN100v}{rN91r}\El{rN100v}{r18}\El{rN91r}{r16}\El{rN91r}{r17}
\Er{rN96s}{rN100w}\Er{rN96s}{rN0r}\El{rN100w}{r20}\El{rN100w}{r21}\El{rN0r}{r22}\El{rN0r}{r23}
\Er{rNPI}{rN13}\Er{rNPI}{rN88p}\El{rN13}{r24}\El{rN13}{r25}
\Er{rN88p}{rN81p}\Er{rN88p}{rN94p}\Er{rN81p}{rN90p}\Er{rN81p}{rN98p2}\Er{rN90p}{rNx}\Er{rN90p}{rN72}
\Er{rNx}{rN27p}\Er{rNx}{rN55p}\Er{rNx}{rN98q}\Er{rN27p}{rN81q}\El{rN27p}{r30}\Er{rN81q}{rN93p}\El{rN81q}{r29}
\Er{rN93p}{rN100p}\El{rN93p}{r28}\El{rN100p}{r26}\El{rN100p}{r27}\El{rN55p}{r31}\El{rN55p}{r32}
\El{rN98q}{r33}\El{rN98q}{r34}
\Er{rN72}{rN88q}\Er{rN72}{rN98p3}\El{rN88q}{r35}\Er{rN88q}{rN99p}\El{rN99p}{r36}\El{rN99p}{r37}
\Er{rN98p3}{rN96p}\El{rN98p3}{r41}\Er{rN96p}{rN100q}\El{rN96p}{r40}\El{rN100q}{r38}\El{rN100q}{r39}
\El{rN98p2}{r42}\Er{rN98p2}{rN85p}\El{rN85p}{r43}\Er{rN85p}{rN49}\El{rN49}{r44}\El{rN49}{r45}
\Er{rN94p}{rN100z}\El{rN94p}{r52}\Er{rN100z}{rN90q}\Er{rN100z}{rN97q}\Er{rN90q}{rN100y2}\El{rN90q}{r49}
\Er{rN100y2}{rN99y}\El{rN100y2}{r48}\El{rN99y}{r46}\El{rN99y}{r47}\El{rN97q}{r50}\El{rN97q}{r51}
\El{rNBS}{r53}\Er{rNBS}{rN92bs}\Er{rN92bs}{rN96b}\Er{rN92bs}{rN44}\El{rN96b}{r54}\El{rN96b}{r55}
\Er{rN44}{rN0b}\Er{rN44}{rN41b}\El{rN0b}{r56}\Er{rN0b}{rN100b}\El{rN100b}{r57}\Er{rN100b}{rN0c}
\Er{rN0c}{rN64}\El{rN0c}{r60}\El{rN64}{r58}\El{rN64}{r59}
\Er{rN41b}{rN41c}\Er{rN41b}{rN100h}\Er{rN41c}{rN80b}\Er{rN41c}{rN84c}
\Er{rN80b}{rN100c}\Er{rN80b}{rN39b}\Er{rN80b}{rN100g}\Er{rN100c}{rN90b}\El{rN100c}{r66}
\Er{rN90b}{rN100e}\Er{rN90b}{rN100f}\El{rN100e}{r61}\El{rN100e}{r62}\Er{rN100f}{rN97b}\El{rN100f}{r65}
\El{rN97b}{r63}\El{rN97b}{r64}
\Er{rN39b}{rN23b}\Er{rN39b}{rN86b}\El{rN23b}{r67}\El{rN23b}{r68}\El{rN86b}{r69}\Er{rN86b}{rN90b2}
\Er{rN90b2}{rN98b}\El{rN90b2}{r72}\El{rN98b}{r70}\El{rN98b}{r71}\El{rN100g}{r73}\El{rN100g}{r74}
\Er{rN84c}{rN97c}\El{rN84c}{r80}\Er{rN97c}{rN100i}\Er{rN97c}{rN99c}\El{rN100i}{r75}\El{rN100i}{r76}
\Er{rN99c}{rN86c}\El{rN99c}{r79}\El{rN86c}{r77}\El{rN86c}{r78}\El{rN100h}{r81}\El{rN100h}{r82}
\Bs{rN98r}{98}\Bs{rN89r}{89}\Bs{rN98s}{98}\Bs{rN81}{81}\Bs{rN96r}{96}\Bs{rN100r}{100}\Bs{rN100t}{100}
\Bk{rN100s}{100}\Bs{rN94r}{94}\Bs{rN5r}{5}\Bs{rN88r}{88}\Bk{rN77r}{77}\Bs{rN60r}{60}\Bs{rN99r2}{99}
\Bk{rN100u}{100}\Bs{rN86r}{86}\Bs{rN99r}{99}\Bs{rN100v}{100}\Bs{rN91r}{91}\Bs{rN96s}{96}\Bs{rN100w}{100}\Bs{rN0r}{0}
\Bs{rNPI}{100}\Bs{rN13}{13}\Bs{rN88p}{88}\Bs{rN81p}{81}\Bs{rN90p}{90}\Bs{rN27p}{27}\Bs{rN81q}{81}
\Bk{rN93p}{93}\Bk{rN100p}{100}\Bs{rN55p}{55}\Bs{rN98q}{98}\Bs{rN72}{72}\Bs{rN88q}{88}\Bs{rN99p}{99}
\Bs{rN98p3}{98}\Bk{rN96p}{100}\Bk{rN100q}{96}\Bs{rN98p2}{98}\Bs{rN85p}{85}\Bs{rN49}{49}\Bs{rN94p}{94}
\Bs{rN100z}{100}\Bs{rN90q}{90}\Bk{rN100y2}{99}\Bk{rN99y}{100}\Bs{rN97q}{97}
\node[bsl,text=black] (rB16) at (1235.4,383.5) {16};
\node[bsl] (rB93) at (1246,373) {93};
\Bs{rNBS}{89}\Bs{rN92bs}{92}\Bs{rN96b}{96}\Bs{rN44}{44}\Bs{rN0b}{0}\Bs{rN100b}{100}\Bs{rN0c}{0}
\Bs{rN64}{64}\Bs{rN100c}{100}\Bs{rN90b}{90}\Bs{rN100e}{100}\Bs{rN100f}{100}\Bs{rN97b}{97}\Bs{rN80b}{80}
\Bs{rN23b}{23}\Bk{rN90b2}{90}\Bk{rN98b}{98}\Bs{rN100g}{100}\Bs{rN41b}{41}
\Bs{rN84c}{84}\Bs{rN97c}{97}\Bk{rN100i}{100}\Bk{rN99c}{99}\Bk{rN86c}{86}\Bs{rN100h}{100}
\node[bsl,text=black] (rB39) at (1231.8,815.5) {39};
\node[bsl,text=black] (rB86) at (1237.6,828.5) {86};
\node[bsl,text=black] (rB75) at (1240.3,841.5) {75};
\node[bsl,text=black] (rB82) at (1231.5,854) {82};
\end{tikzpicture}
\end{document}
